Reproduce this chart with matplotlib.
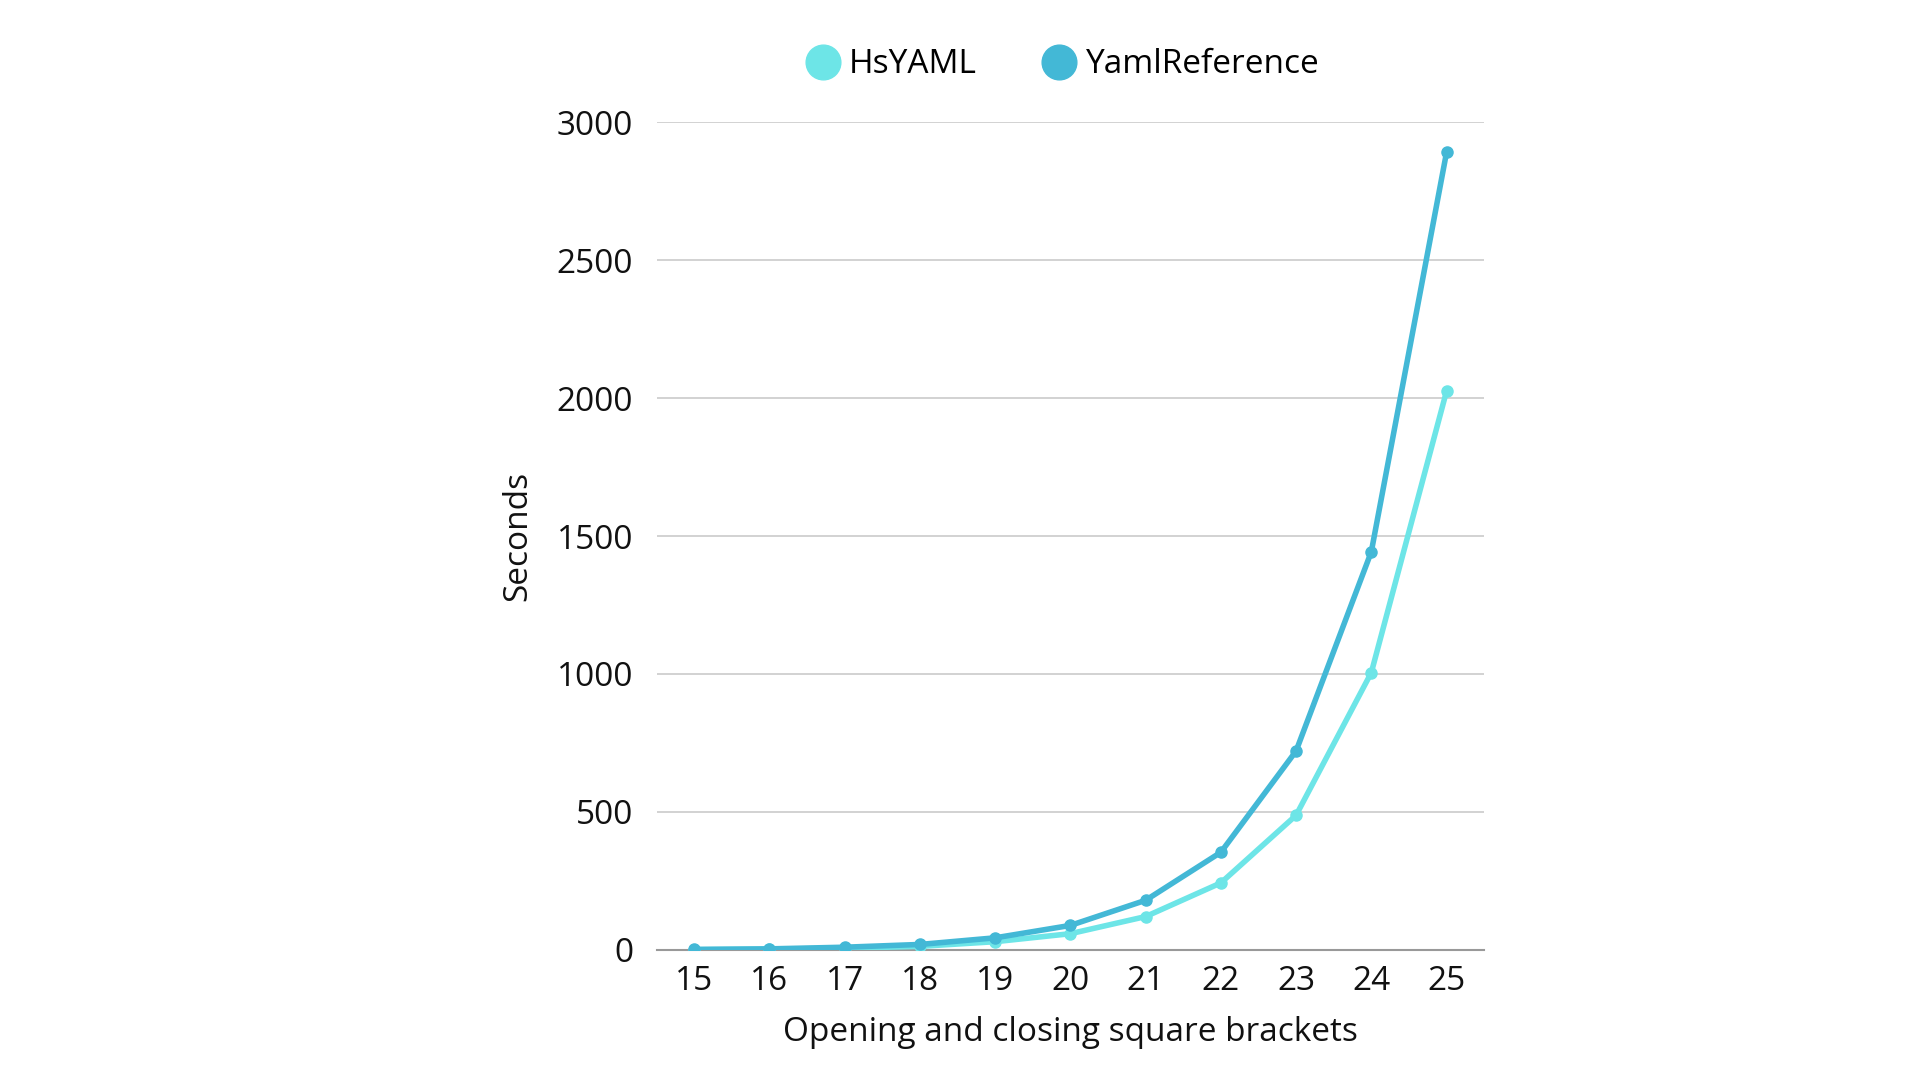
import matplotlib
matplotlib.use("Agg")
import matplotlib.pyplot as plt
from matplotlib.lines import Line2D

brackets = [15, 16, 17, 18, 19, 20, 21, 22, 23, 24, 25]
hsyaml = [1, 3, 6, 13, 30, 59, 121, 243, 488, 1005, 2025]
yamlref = [2, 4, 10, 20, 44, 89, 180, 354, 721, 1443, 2890]
yticks = [0, 500, 1000, 1500, 2000, 2500, 3000]

c_hs = "#6de5e7"
c_ref = "#43b8d6"

plt.rcParams["font.family"] = ["Open Sans", "DejaVu Sans"]

fig = plt.figure(figsize=(19.2, 10.8), dpi=100)
ax = fig.add_axes([0.342, 0.1204, 0.431, 0.7666])

ax.plot(brackets, hsyaml, color=c_hs, lw=4, marker="o", ms=8, zorder=3)
ax.plot(brackets, yamlref, color=c_ref, lw=4, marker="o", ms=8, zorder=4)

ax.set_xlim(14.5, 25.5)
ax.set_ylim(0, 3000)
ax.set_yticks(yticks)
ax.set_xticks(brackets)
ax.tick_params(axis="both", length=0, labelsize=24, colors="#111111")
ax.tick_params(axis="y", pad=17)
ax.tick_params(axis="x", pad=11)
ax.grid(axis="y", color="#cfcfcf", lw=1.3)
ax.set_axisbelow(True)
for s in ["left", "right", "top"]:
    ax.spines[s].set_visible(False)
ax.spines["bottom"].set_color("#999999")
ax.spines["bottom"].set_linewidth(1.5)
ax.spines["bottom"].set_zorder(2)

ax.set_ylabel("Seconds", fontsize=24, color="#111111", labelpad=16)
ax.set_xlabel("Opening and closing square brackets", fontsize=24, color="#111111", labelpad=13)

handles = [
    Line2D([], [], color=c_hs, marker="o", ls="none", ms=25),
    Line2D([], [], color=c_ref, marker="o", ls="none", ms=25),
]
fig.legend(handles, ["HsYAML", "YamlReference"], loc="center",
           bbox_to_anchor=(0.553, 0.94), ncol=2, frameon=False,
           fontsize=24, handletextpad=0.25, columnspacing=1.9,
           handlelength=1.1)

fig.savefig("out.png", dpi=100, facecolor="white")
